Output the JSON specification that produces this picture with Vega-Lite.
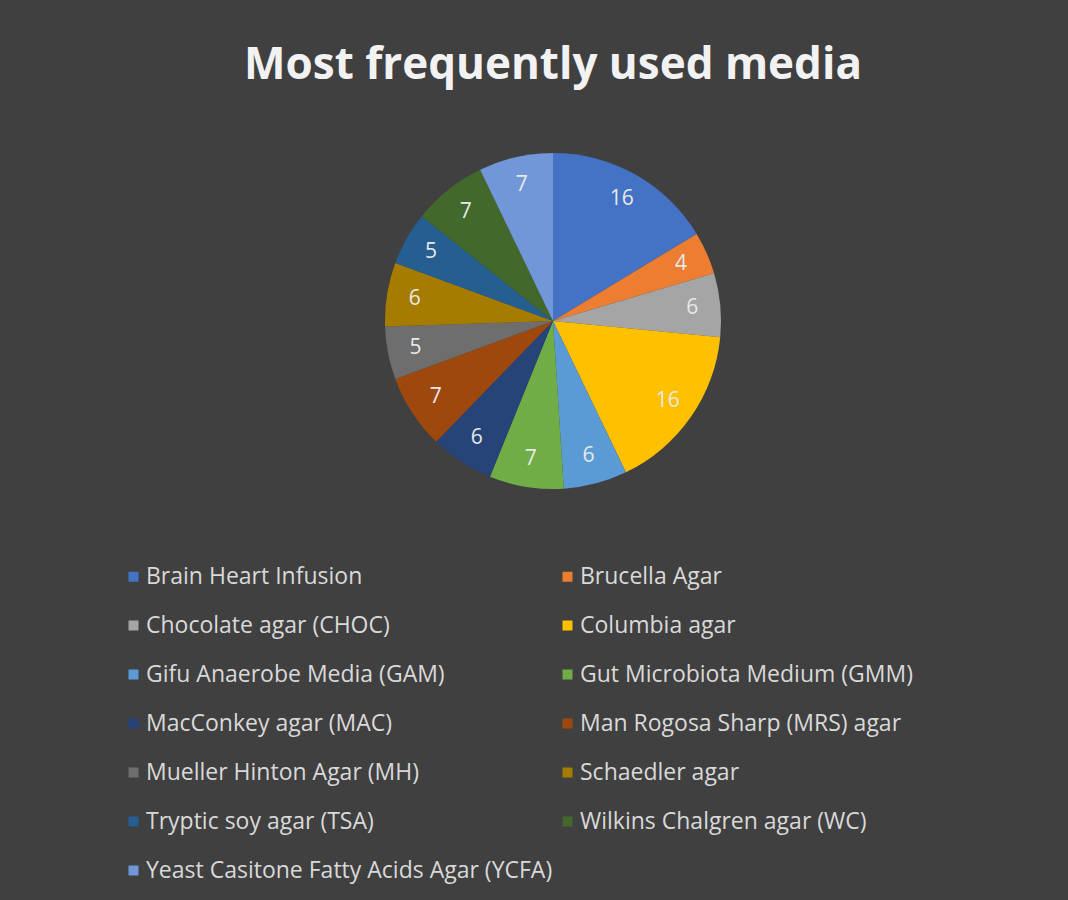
{
  "$schema": "https://vega.github.io/schema/vega-lite/v6.json",
  "width": 336,
  "height": 336,
  "autosize": {"type": "none"},
  "padding": {"left": 385, "top": 153, "right": 347, "bottom": 411},
  "background": "#404040",
  "config": {"view": {"stroke": null}},
  "title": {
    "text": "Most frequently used media",
    "font": "Open Sans",
    "fontSize": 44,
    "fontWeight": "bold",
    "color": "#f2f2f2",
    "offset": 65,
    "anchor": "middle"
  },
  "data": {
    "values": [
      {"media": "Brain Heart Infusion", "count": 16},
      {"media": "Brucella Agar", "count": 4},
      {"media": "Chocolate agar (CHOC)", "count": 6},
      {"media": "Columbia agar", "count": 16},
      {"media": "Gifu Anaerobe Media (GAM)", "count": 6},
      {"media": "Gut Microbiota Medium (GMM)", "count": 7},
      {"media": "MacConkey agar (MAC)", "count": 6},
      {"media": "Man Rogosa Sharp (MRS) agar", "count": 7},
      {"media": "Mueller Hinton Agar (MH)", "count": 5},
      {"media": "Schaedler agar", "count": 6},
      {"media": "Tryptic soy agar (TSA)", "count": 5},
      {"media": "Wilkins Chalgren agar (WC)", "count": 7},
      {"media": "Yeast Casitone Fatty Acids Agar (YCFA)", "count": 7}
    ]
  },
  "encoding": {
    "theta": {"field": "count", "type": "quantitative", "stack": true},
    "order": {"field": "media", "sort": "ascending"}
  },
  "layer": [
    {
      "mark": {"type": "arc"},
      "encoding": {
        "color": {
          "field": "media",
          "type": "nominal",
          "scale": {
            "domain": ["Brain Heart Infusion", "Brucella Agar", "Chocolate agar (CHOC)", "Columbia agar", "Gifu Anaerobe Media (GAM)", "Gut Microbiota Medium (GMM)", "MacConkey agar (MAC)", "Man Rogosa Sharp (MRS) agar", "Mueller Hinton Agar (MH)", "Schaedler agar", "Tryptic soy agar (TSA)", "Wilkins Chalgren agar (WC)", "Yeast Casitone Fatty Acids Agar (YCFA)"],
            "range": ["#4472C4", "#ED7D31", "#A5A5A5", "#FFC000", "#5B9BD5", "#70AD47", "#264478", "#9E480E", "#6E6E6E", "#A67C00", "#255E91", "#43682B", "#7197D8"]
          },
          "legend": {
            "title": null,
            "orient": "none",
            "legendX": -263,
            "legendY": 412,
            "direction": "horizontal",
            "columns": 2,
            "columnPadding": 3,
            "rowPadding": 25,
            "symbolType": "square",
            "symbolSize": 100,
            "symbolStrokeWidth": 0,
            "labelFont": "Open Sans",
            "labelFontSize": 23,
            "labelColor": "#d9d9d9",
            "labelLimit": 600,
            "labelOffset": 1
          }
        }
      }
    },
    {
      "mark": {"type": "text", "radius": 140, "font": "Open Sans", "fontSize": 21, "fill": "#e8e8e8"},
      "encoding": {
        "detail": {"field": "media", "type": "nominal"},
        "text": {"field": "count", "type": "quantitative"}
      }
    }
  ]
}
